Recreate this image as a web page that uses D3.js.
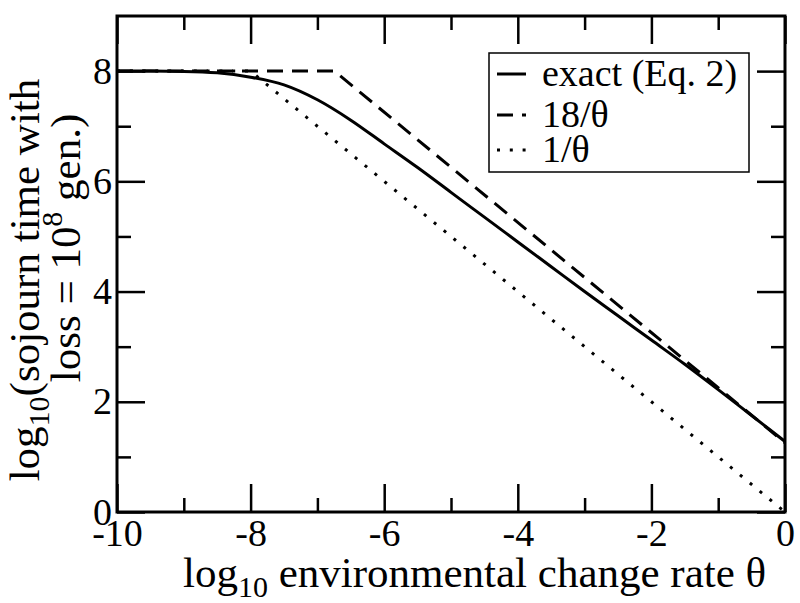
<!DOCTYPE html>
<html><head><meta charset="utf-8">
<script src="https://cdn.jsdelivr.net/npm/d3@7"></script>
<style>body{margin:0;background:#fff}svg{display:block}svg text{font-family:"Liberation Serif","DejaVu Serif",serif}</style>
</head><body>
<svg id="c" width="800" height="603"></svg>
<script>
// ---- data ----
const exactX = [-10,-9.5,-9,-8.5,-8,-7.5,-7,-6.5,-6,-5.5,-5,-4.5,-4,-3.5,-3,-2.5,-2,-1.5,-1,-0.5,0];
const exactY = [8.00,8.00,7.995,7.97,7.89,7.75,7.48,7.11,6.68,6.25,5.80,5.35,4.90,4.45,4.00,3.56,3.12,2.68,2.22,1.75,1.28];
const approx18X = [-10,-6.745,0];
const approx18Y = [8,8,1.255];
const approx1X = [-10,-8,0];
const approx1Y = [8,8,0];
const xMajorTicks = [-10,-8,-6,-4,-2,0];
const xMinorTicks = [-9,-7,-5,-3,-1];
const yMajorTicks = [0,2,4,6,8];
const yMinorTicks = [1,3,5,7];
const legendLabels = ["exact (Eq. 2)", "18/\u03B8", "1/\u03B8"];

// ---- layout ----
const FONT = "Liberation Serif";
const L = 117, R = 785, T = 16, B = 512;
const svg = d3.select("#c");
const x = d3.scaleLinear().domain([-10,0]).range([L,R]);
const y = d3.scaleLinear().domain([0,9]).range([B,T]);

svg.append("clipPath").attr("id","clip").append("rect")
  .attr("x",L).attr("y",T).attr("width",R-L).attr("height",B-T);

const line = d3.line().x(d=>x(d[0])).y(d=>y(d[1]));
const series = [
  {xs:exactX, ys:exactY, dash:null, curve:d3.curveMonotoneX},
  {xs:approx18X, ys:approx18Y, dash:"16 9", curve:d3.curveLinear},
  {xs:approx1X, ys:approx1Y, dash:"3 9.8", curve:d3.curveLinear}
];
const plot = svg.append("g").attr("clip-path","url(#clip)");
series.slice().reverse().forEach(s=>{
  plot.append("path")
    .datum(s.xs.map((v,i)=>[v,s.ys[i]]))
    .attr("d", line.curve(s.curve))
    .attr("fill","none").attr("stroke","#000").attr("stroke-width",3)
    .attr("stroke-dasharray", s.dash);
});

// axes (ticks inward, mirrored)
function axisSet(axisFn, scale, ticks, size, transform){
  const a = axisFn(scale).tickValues(ticks).tickSize(size).tickFormat("");
  const gg = svg.append("g").attr("transform",transform).call(a);
  gg.select(".domain").remove();
  gg.selectAll("line").attr("stroke","#000").attr("stroke-width",2.5);
  return gg;
}
const MAJ = 28, MIN = 14;
axisSet(d3.axisBottom, x, xMajorTicks, -MAJ, `translate(0,${B})`);
axisSet(d3.axisBottom, x, xMinorTicks, -MIN, `translate(0,${B})`);
axisSet(d3.axisTop, x, xMajorTicks, -MAJ, `translate(0,${T})`);
axisSet(d3.axisTop, x, xMinorTicks, -MIN, `translate(0,${T})`);
axisSet(d3.axisLeft, y, yMajorTicks, -MAJ, `translate(${L},0)`);
axisSet(d3.axisLeft, y, yMinorTicks, -MIN, `translate(${L},0)`);
axisSet(d3.axisRight, y, yMajorTicks, -MAJ, `translate(${R},0)`);
axisSet(d3.axisRight, y, yMinorTicks, -MIN, `translate(${R},0)`);

// tick labels
const xl = d3.axisBottom(x).tickValues(xMajorTicks).tickSize(0).tickPadding(0).tickFormat(d=>String(d));
const xg = svg.append("g").attr("transform",`translate(0,${B})`).call(xl);
xg.select(".domain").remove();
xg.attr("font-family",FONT);
xg.selectAll("text").attr("font-family",FONT).attr("font-size",38).attr("fill","#000").attr("dy",null).attr("y",34);
const yl = d3.axisLeft(y).tickValues(yMajorTicks).tickSize(0).tickPadding(0).tickFormat(d=>String(d));
const yg = svg.append("g").attr("transform",`translate(${L},0)`).call(yl);
yg.select(".domain").remove();
yg.attr("font-family",FONT);
yg.selectAll("text").attr("font-family",FONT).attr("font-size",38).attr("fill","#000").attr("dy",null).attr("x",-5).attr("y",12);

// frame
svg.append("rect").attr("x",L).attr("y",T).attr("width",R-L).attr("height",B-T)
  .attr("fill","none").attr("stroke","#000").attr("stroke-width",3);

// x title
const xt = svg.append("text").attr("font-family",FONT).attr("font-size",43).attr("fill","#000")
  .attr("x",183).attr("y",587);
xt.append("tspan").text("log");
xt.append("tspan").attr("font-size",30).attr("dy",10).text("10");
xt.append("tspan").attr("dy",-10).text(" environmental change rate \u03B8");

// y title
const yt1 = svg.append("text").attr("font-family",FONT).attr("font-size",43).attr("fill","#000")
  .attr("text-anchor","middle").attr("transform","translate(39,280) rotate(-90)");
yt1.append("tspan").text("log");
yt1.append("tspan").attr("font-size",30).attr("dy",10).text("10");
yt1.append("tspan").attr("dy",-10).text("(sojourn time with");
const yt2 = svg.append("text").attr("font-family",FONT).attr("font-size",43).attr("fill","#000")
  .attr("text-anchor","middle").attr("transform","translate(80,248) rotate(-90)");
yt2.append("tspan").text("loss = 10");
yt2.append("tspan").attr("font-size",30).attr("dy",-18).text("8");
yt2.append("tspan").attr("dy",18).text(" gen.)");

// legend
const lg = svg.append("g");
lg.append("rect").attr("x",489).attr("y",53).attr("width",260).attr("height",119)
  .attr("fill","#fff").attr("stroke","#000").attr("stroke-width",1.5);
const lgY = [74,115,150];
series.forEach((s,i)=>{
  lg.append("line").attr("x1",497).attr("x2",526).attr("y1",lgY[i]).attr("y2",lgY[i])
    .attr("stroke","#000").attr("stroke-width",3).attr("stroke-dasharray",s.dash);
  lg.append("text").attr("x",542).attr("y",lgY[i]+12).attr("font-family",FONT)
    .attr("font-size",38).attr("fill","#000").text(legendLabels[i]);
});
</script>
</body></html>
